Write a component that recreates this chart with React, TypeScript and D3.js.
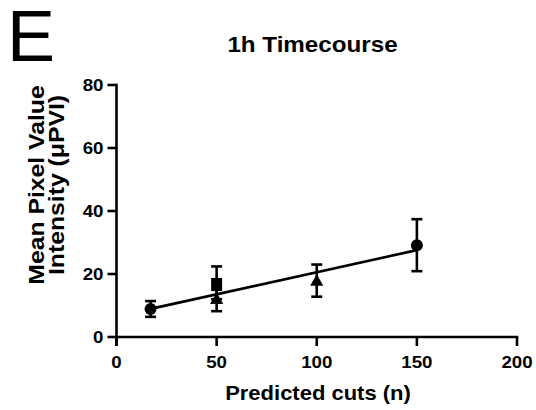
import React from "react";
import * as d3 from "d3";

// Measurements: predicted cuts (n), mean intensity, and SD error bounds
const cuts = [17, 50, 50, 100, 150];
const means = [8.9, 17.0, 11.7, 17.5, 29.1];
const errLow = [6.4, 12.0, 8.2, 12.8, 20.9];
const errHigh = [11.4, 22.4, 15.0, 23.0, 37.4];
const shapes = ["circle", "square", "triangle", "triangle", "circle"];

const xTicks = [0, 50, 100, 150, 200];
const yTicks = [0, 20, 40, 60, 80];

const W = 536;
const H = 410;
const margin = { left: 116.5, right: 19, top: 85, bottom: 73 };

const font = "'Liberation Sans', Arial, sans-serif";
const SX = 1.1; // horizontal widening of the bold labels

// bold label drawn with a slight horizontal stretch around its anchor
function Label({ x, y, size, anchor = "middle", rotate = 0, dy, children }: any) {
  return (
    <g transform={`translate(${x},${y}) rotate(${rotate}) scale(${SX},1)`}>
      <text x={0} y={0} dy={dy} textAnchor={anchor} fontFamily={font} fontSize={size} fontWeight="bold" fill="#000">
        {children}
      </text>
    </g>
  );
}

export default function App() {
  const x = d3.scaleLinear().domain([0, 200]).range([margin.left, W - margin.right]);
  const y = d3.scaleLinear().domain([0, 80]).range([H - margin.bottom, margin.top]);

  // least-squares fit across all points
  const mx = d3.mean(cuts)!;
  const my = d3.mean(means)!;
  const sxy = d3.sum(cuts.map((c, i) => (c - mx) * (means[i] - my)));
  const sxx = d3.sum(cuts.map((c) => (c - mx) ** 2));
  const slope = sxy / sxx;
  const icpt = my - slope * mx;
  const fitLine = d3
    .line<number>()
    .x((v) => x(v))
    .y((v) => y(icpt + slope * v))([d3.min(cuts)!, d3.max(cuts)!]);

  const sw = 2.6;
  const tick = 9;

  const marker = (shape: string, cx: number, cy: number, key: number) => {
    if (shape === "circle") return <circle key={key} cx={cx} cy={cy} r={6} fill="#000" />;
    if (shape === "square") return <rect key={key} x={cx - 5.5} y={cy - 5.5} width={11} height={11} fill="#000" />;
    const s = d3.symbol().type(d3.symbolTriangle).size(75)();
    return <path key={key} d={s!} transform={`translate(${cx},${cy})`} fill="#000" />;
  };

  return (
    <svg width={W} height={H} style={{ position: "absolute", left: 0, top: 0, background: "#fff" }}>
      <text x={7} y={61} fontFamily={font} fontSize={72} fill="#000">E</text>
      <Label x={312.5} y={51.5} size={22}>1h Timecourse</Label>

      {/* axes */}
      <line x1={x(0)} x2={x(0)} y1={y(80) - 1.3} y2={y(0) + tick} stroke="#000" strokeWidth={sw} />
      <line x1={x(0) - 1.3} x2={x(200) + 1.3} y1={y(0)} y2={y(0)} stroke="#000" strokeWidth={sw} />
      {yTicks.map((t) => (
        <g key={"y" + t}>
          <line x1={x(0) - tick} x2={x(0)} y1={y(t)} y2={y(t)} stroke="#000" strokeWidth={sw} />
          <Label x={x(0) - 13} y={y(t)} dy="0.36em" size={17} anchor="end">{t}</Label>
        </g>
      ))}
      {xTicks.map((t) => (
        <g key={"x" + t}>
          <line x1={x(t)} x2={x(t)} y1={y(0)} y2={y(0) + tick} stroke="#000" strokeWidth={sw} />
          <Label x={x(t)} y={367.5} size={17}>{t}</Label>
        </g>
      ))}

      <Label x={318} y={400} size={20}>Predicted cuts (n)</Label>
      <Label x={44} y={185} size={22.5} rotate={-90}>Mean Pixel Value</Label>
      <Label x={63.5} y={185} size={22.5} rotate={-90}>Intensity (μPVI)</Label>

      {/* regression line */}
      <path d={fitLine!} stroke="#000" strokeWidth={sw} fill="none" />

      {/* error bars and markers */}
      {cuts.map((c, i) => (
        <g key={"e" + i}>
          <line x1={x(c)} x2={x(c)} y1={y(errLow[i])} y2={y(errHigh[i])} stroke="#000" strokeWidth={sw} />
          <line x1={x(c) - 5.5} x2={x(c) + 5.5} y1={y(errLow[i])} y2={y(errLow[i])} stroke="#000" strokeWidth={sw} />
          <line x1={x(c) - 5.5} x2={x(c) + 5.5} y1={y(errHigh[i])} y2={y(errHigh[i])} stroke="#000" strokeWidth={sw} />
        </g>
      ))}
      {cuts.map((c, i) => marker(shapes[i], x(c), y(means[i]), i))}
    </svg>
  );
}
